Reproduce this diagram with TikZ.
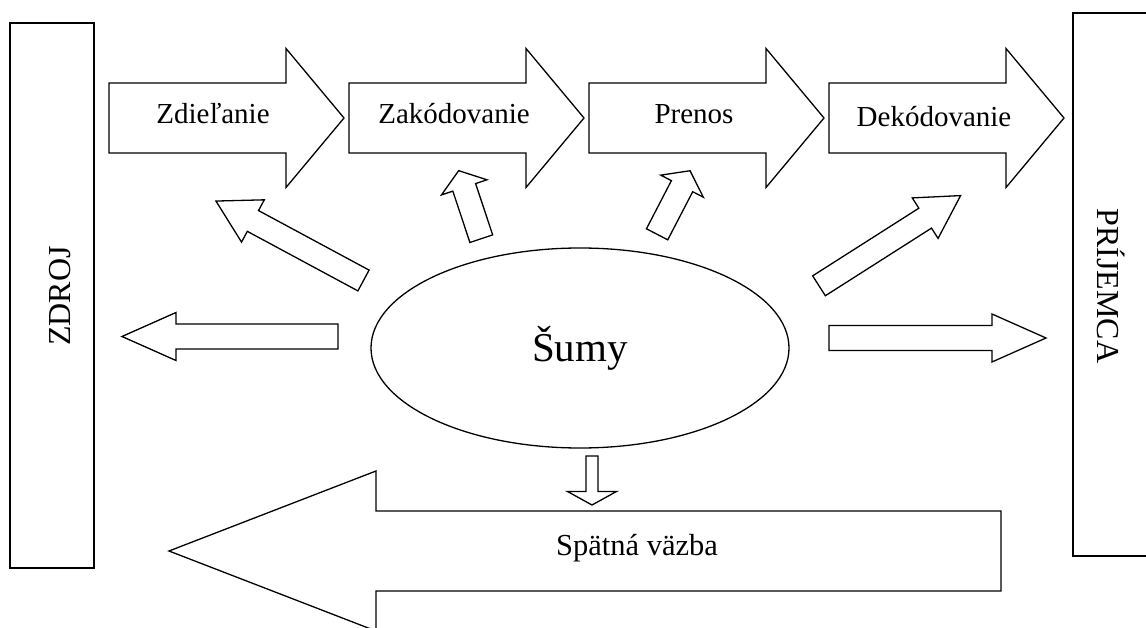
\documentclass[tikz,border=0pt]{standalone}
\usepackage{fontspec}
\setmainfont{Liberation Serif}
\usetikzlibrary{shapes.geometric}

% block arrow: tail, angle, length, head length, half shaft, half head
\newcommand{\blokarrow}[6]{%
  \draw[shift={#1},rotate=#2] (0,-#5) -- (#3-#4,-#5) -- (#3-#4,-#6) -- (#3,0)
    -- (#3-#4,#6) -- (#3-#4,#5) -- (0,#5) -- cycle;}

\begin{document}
\begin{tikzpicture}[x=1pt,y=-1pt,line width=1.3pt,
                    step label/.style={anchor=base,font=\fontsize{29}{34}\selectfont},
                    side label/.style={anchor=base,font=\fontsize{32}{38}\selectfont}]
  \useasboundingbox (0,0) rectangle (1146,628);
  % source and receiver
  \draw (10,23) rectangle (94,568);
  \draw (1073,13) rectangle (1160,556);
  \node[side label,rotate=90] (zdroj) at (70,296) {ZDROJ};
  \node[side label,rotate=-90] (prijemca) at (1097,286) {PRÍJEMCA};
  % top steps
  \blokarrow{(109,118)}{0}{235}{58}{35}{69.5}
  \blokarrow{(349,118)}{0}{235}{58}{35}{69.5}
  \blokarrow{(589,118)}{0}{235}{58}{35}{69.5}
  \blokarrow{(829,118)}{0}{235}{58}{35}{69.5}
  \node[step label] (zdielanie) at (213,124) {Zdieľanie};
  \node[step label] (zakodovanie) at (454,124) {Zakódovanie};
  \node[step label] (prenos) at (694,124) {Prenos};
  \node[step label] (dekodovanie) at (934,126.5) {Dekódovanie};
  % noise
  \node[draw,ellipse,minimum width=418,minimum height=200,
        font=\fontsize{41}{48}\selectfont] (sumy) at (580,348) {Šumy};
  \blokarrow{(363.5,280.5)}{151.7}{167.6}{42}{11.8}{24}
  \blokarrow{(481.3,238.7)}{108.4}{71.7}{17.6}{12}{24}
  \blokarrow{(657.1,234.3)}{62.6}{71.6}{17.4}{12}{24}
  \blokarrow{(819,285.8)}{32.5}{167.9}{42}{11.8}{24}
  \blokarrow{(338,336.5)}{180}{216}{54}{12.5}{24}
  \blokarrow{(829,338)}{0}{217}{54}{12.5}{24}
  \blokarrow{(592,456)}{270}{49}{13.5}{6}{24.5}
  % feedback
  \blokarrow{(1001,551)}{180}{832}{207}{40}{80}
  \node[anchor=base,font=\fontsize{30.5}{36}\selectfont] (vazba) at (637,555) {Spätná väzba};
\end{tikzpicture}
\end{document}
